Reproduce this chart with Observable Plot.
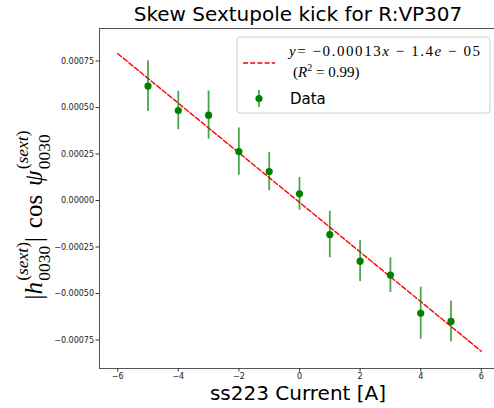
<!DOCTYPE html>
<html>
<head>
<meta charset="utf-8">
<script src="https://cdn.jsdelivr.net/npm/d3@7"></script>
<script src="https://cdn.jsdelivr.net/npm/@observablehq/plot@0.6"></script>
<style>
  html, body { margin: 0; padding: 0; background: #fff; }
  svg { display: block; }
</style>
</head>
<body>
<div id="chart"></div>
<script>
// ---- data ----
const currents = [-5, -4, -3, -2, -1, 0, 1, 2, 3, 4, 5];
const kickValues = [0.000615, 0.000484, 0.000459, 0.000263, 0.000156, 0.000036, -0.000183, -0.000326, -0.000401, -0.000606, -0.00065];
const kickErrors = [0.000137, 0.000103, 0.00013, 0.000127, 0.000103, 0.000088, 0.000125, 0.00011, 0.000093, 0.00014, 0.00011];
const fitX = [-6, 6];
const fitY = [0.00079, -0.00081];
const xTicks = [-6, -4, -2, 0, 2, 4, 6];
const yTicks = [-0.00075, -0.0005, -0.00025, 0, 0.00025, 0.0005, 0.00075];
const titleText = "Skew Sextupole kick for R:VP307";
const xLabelText = "ss223 Current [A]";
const legendDataText = "Data";

const points = currents.map((c, i) => ({x: c, y: kickValues[i], lo: kickValues[i] - kickErrors[i], hi: kickValues[i] + kickErrors[i]}));
const fit = fitX.map((x, i) => ({x, y: fitY[i]}));

const svg = Plot.plot({
  width: 494,
  height: 408,
  marginLeft: 99, marginRight: 0, marginTop: 28, marginBottom: 40,
  style: {fontFamily: "DejaVu Sans", fontSize: "8px", color: "#222", background: "#fff"},
  x: {domain: [-6.6, 6.6], range: [99, 499]},
  y: {domain: [-0.000903, 0.0009247], range: [368, 28]},
  marks: [
    Plot.frame({stroke: "#555", strokeWidth: 1}),
    Plot.axisX({ticks: xTicks, tickSize: 3.5, tickPadding: 1.5, tickFormat: d3.format("d"), label: null, stroke: "#333"}),
    Plot.axisY({ticks: yTicks, tickSize: 3.5, tickPadding: 2, tickFormat: d3.format(".5f"), label: null, stroke: "#333"}),
    Plot.line(fit, {x: "x", y: "y", stroke: "#ff0000", strokeWidth: 1.4, strokeDasharray: "5,2.2"}),
    Plot.ruleX(points, {x: "x", y1: "lo", y2: "hi", stroke: "#008000", strokeOpacity: 0.7, strokeWidth: 1.8}),
    Plot.dot(points, {x: "x", y: "y", r: 3.6, fill: "#008000", stroke: "none"})
  ]
});
document.getElementById("chart").appendChild(svg);

const s = d3.select(svg);
// Title
s.append("text").attr("x", 298).attr("y", 21).attr("text-anchor", "middle")
  .attr("font-family", "DejaVu Sans").attr("font-size", 20).attr("fill", "#000").text(titleText);
// X label
s.append("text").attr("x", 298).attr("y", 400).attr("text-anchor", "middle")
  .attr("font-family", "DejaVu Sans").attr("font-size", 20).attr("fill", "#000").text(xLabelText);

// Y label (math) built from pieces
const serif = "Liberation Serif";
function buildMath(g, size) {
  let cx = 0;
  const put = (txt, opts = {}) => {
    const t = g.append("text").attr("x", cx).attr("y", opts.dy || 0).attr("text-anchor", "start")
      .attr("font-family", serif).attr("font-size", opts.size || size)
      .attr("font-style", opts.italic ? "italic" : "normal").attr("fill", "#000").text(txt);
    return t.node().getComputedTextLength();
  };
  const script = () => {
    const small = size * 0.7;
    const start = cx + size * 0.05;
    cx = start;
    cx += put("(", {size: small, dy: -size * 0.55});
    cx += put("sext", {size: small, dy: -size * 0.55, italic: true});
    cx += put(")", {size: small, dy: -size * 0.55});
    const supW = cx - start;
    cx = start;
    const subW = put("0030", {size: small, dy: size * 0.3});
    cx = start + Math.max(supW, subW);
  };
  cx += put("|");
  cx += put("h", {italic: true});
  script();
  cx += put("|");
  cx += size * 0.35;
  cx += put("cos");
  cx += size * 0.35;
  cx += put("ψ", {italic: true});
  script();
  return cx;
}
const yl = s.append("g");
const inner = yl.append("g");
const totalW = buildMath(inner, 25);
inner.attr("transform", `translate(${-totalW / 2},0)`);
yl.attr("transform", "translate(42,215) rotate(-90)");

// Legend
const lg = s.append("g").attr("text-anchor", "start");
lg.append("rect").attr("x", 237).attr("y", 37).attr("width", 253).attr("height", 76).attr("rx", 3)
  .attr("fill", "#fff").attr("fill-opacity", 0.8).attr("stroke", "#d0d0d0").attr("stroke-width", 1);
lg.append("line").attr("x1", 243).attr("x2", 275).attr("y1", 63).attr("y2", 63)
  .attr("stroke", "#ff0000").attr("stroke-width", 1.4).attr("stroke-dasharray", "5,2.2");
lg.append("line").attr("x1", 259).attr("x2", 259).attr("y1", 90).attr("y2", 107)
  .attr("stroke", "#008000").attr("stroke-opacity", 0.7).attr("stroke-width", 1.8);
lg.append("circle").attr("cx", 259).attr("cy", 98.5).attr("r", 3.6).attr("fill", "#008000");
const t1 = lg.append("text").attr("x", 289).attr("y", 56).attr("text-anchor", "start").attr("font-family", serif).attr("font-size", 15).attr("fill", "#000");
t1.append("tspan").attr("font-style", "italic").text("y");
t1.append("tspan").text("= −0.00013");
t1.append("tspan").attr("font-style", "italic").text("x");
t1.append("tspan").text(" − 1.4");
t1.append("tspan").attr("font-style", "italic").text("e");
t1.append("tspan").text(" − 05");
t1.attr("textLength", 191).attr("lengthAdjust", "spacing");
const t2 = lg.append("text").attr("x", 293).attr("y", 77).attr("text-anchor", "start").attr("font-family", serif).attr("font-size", 15).attr("fill", "#000");
t2.append("tspan").text("(");
t2.append("tspan").attr("font-style", "italic").text("R");
t2.append("tspan").attr("font-size", 10).attr("dy", -6).text("2");
t2.append("tspan").attr("dy", 6).text(" = 0.99)");
lg.append("text").attr("x", 290).attr("y", 104).attr("text-anchor", "start").attr("font-family", "DejaVu Sans").attr("font-size", 15)
  .attr("fill", "#000").text(legendDataText);
</script>
</body>
</html>
